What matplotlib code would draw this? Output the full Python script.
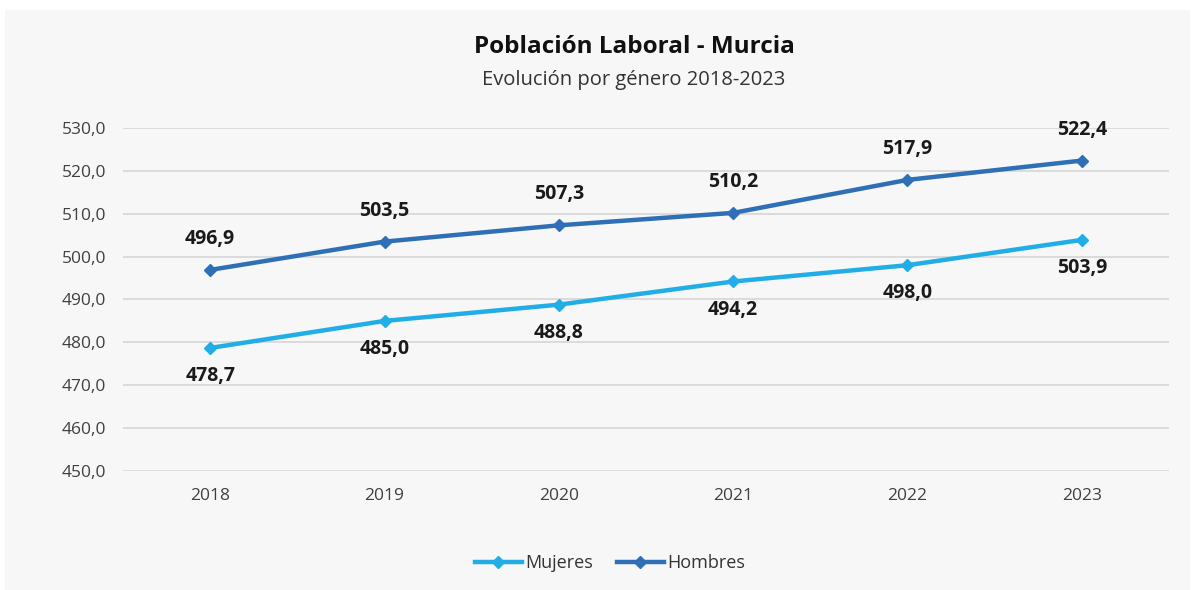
#!/usr/bin/env python3
"""Población laboral Murcia por género 2018-2023."""

import matplotlib

matplotlib.use("Agg")
import matplotlib.pyplot as plt
from matplotlib.patches import Rectangle

years = ["2018", "2019", "2020", "2021", "2022", "2023"]
mujeres = [478.7, 485.0, 488.8, 494.2, 498.0, 503.9]
hombres = [496.9, 503.5, 507.3, 510.2, 517.9, 522.4]
y_ticks = [450, 460, 470, 480, 490, 500, 510, 520, 530]

C_MUJ = "#21aee6"
C_HOM = "#2f6fb5"
BG = "#f7f7f7"

plt.rcParams["font.family"] = ["Open Sans", "DejaVu Sans"]


def fmt(v: float) -> str:
    return f"{v:.1f}".replace(".", ",")


fig = plt.figure(figsize=(11.96, 5.90), dpi=100, facecolor="white")
fig.patches.append(Rectangle((5 / 1196, 0), 1185 / 1196, 580 / 590, transform=fig.transFigure,
                             facecolor=BG, edgecolor="none", zorder=-10))
ax = fig.add_axes([123 / 1196, 1 - 471 / 590, 1046 / 1196, 343 / 590])
ax.set_facecolor(BG)

x = range(len(years))
ax.plot(x, mujeres, color=C_MUJ, lw=3.2, marker="D", ms=6.5, label="Mujeres")
ax.plot(x, hombres, color=C_HOM, lw=3.2, marker="D", ms=6.5, label="Hombres")

for i, v in enumerate(hombres):
    ax.annotate(fmt(v), (i, v), xytext=(0, 15), textcoords="offset points", ha="center",
                va="bottom", fontsize=14, fontweight="bold", color="#1a1a1a")
for i, v in enumerate(mujeres):
    ax.annotate(fmt(v), (i, v), xytext=(0, -13), textcoords="offset points", ha="center",
                va="top", fontsize=14, fontweight="bold", color="#1a1a1a")

ax.set_xlim(-0.5, len(years) - 0.5)
ax.set_ylim(450, 530)
ax.set_xticks(list(x), years)
ax.set_yticks(y_ticks, [fmt(t) for t in y_ticks])
ax.grid(axis="y", color="#d9d9d9", lw=1.3)
ax.set_axisbelow(True)
for s in ax.spines.values():
    s.set_visible(False)
ax.tick_params(length=0, labelsize=12.5, colors="#404040")
ax.tick_params(axis="x", pad=12)
ax.tick_params(axis="y", pad=12)

fig.text(634 / 1196, 1 - 47 / 590, "Población Laboral - Murcia", ha="center", va="center",
         fontsize=17.5, fontweight="bold", color="#111111")
fig.text(634 / 1196, 1 - 80 / 590, "Evolución por género 2018-2023", ha="center", va="center",
         fontsize=14.5, color="#333333")

fig.legend(loc="center", bbox_to_anchor=(610 / 1196, 1 - 563 / 590), ncol=2, frameon=False,
           fontsize=13, handlelength=2.6, columnspacing=1.3, handletextpad=0.2,
           labelcolor="#333333")

fig.savefig("out.png", dpi=100, facecolor="white")
